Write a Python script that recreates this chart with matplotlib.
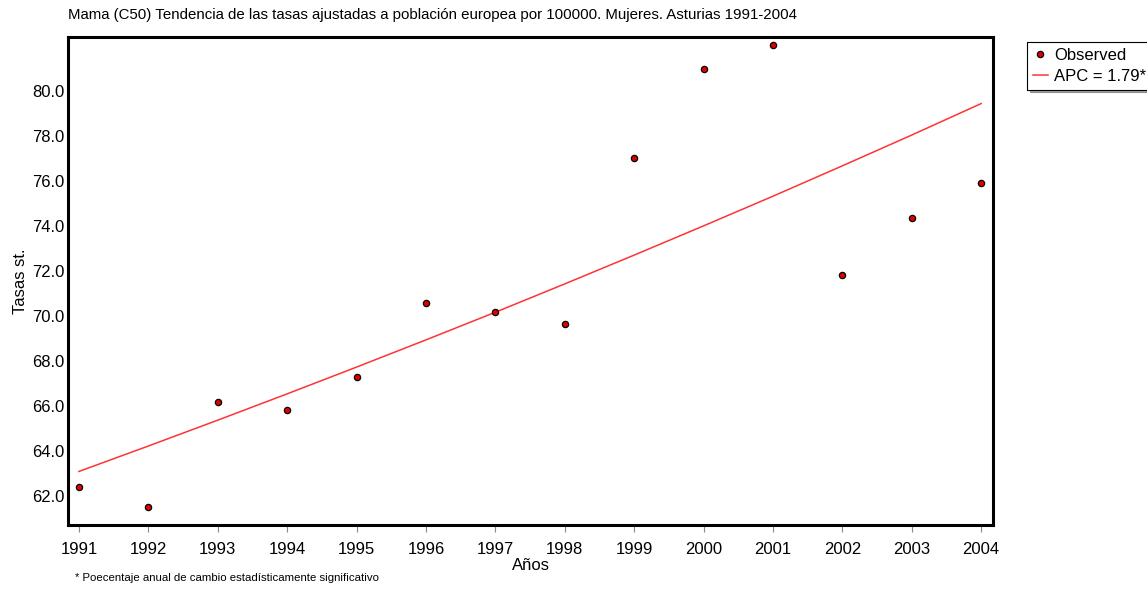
import matplotlib.pyplot as plt
import numpy as np

# Data
years = [1991, 1992, 1993, 1994, 1995, 1996, 1997, 1998, 1999, 2000, 2001, 2002, 2003, 2004]
observed = [62.37, 61.52, 66.17, 65.83, 67.29, 70.55, 70.19, 69.63, 77.04, 80.98, 82.05, 71.82, 74.36, 75.91]
fitted = [63.08, 64.21, 65.36, 66.53, 67.72, 68.93, 70.16, 71.42, 72.70, 74.00, 75.32, 76.67, 78.04, 79.44]
ytick_vals = [62.0, 64.0, 66.0, 68.0, 70.0, 72.0, 74.0, 76.0, 78.0, 80.0]

plt.rcParams['font.family'] = ['Liberation Sans', 'DejaVu Sans']

fig = plt.figure(figsize=(11.47, 5.89), dpi=100)
ax = fig.add_axes([0.0597, 0.1087, 0.8060, 0.8285])

ax.plot(years, fitted, color='#ff3333', linewidth=1.1, label='APC = 1.79*', zorder=2)
ax.plot(years, observed, linestyle='none', marker='o', markersize=4.5,
        markerfacecolor='#e00000', markeredgecolor='black', markeredgewidth=0.9,
        label='Observed', zorder=3)

ax.set_xlim(1990.85, 2004.17)
ax.set_ylim(60.7, 82.4)
ax.set_xticks(years)
ax.set_xticklabels([str(y) for y in years], fontsize=12)
ax.set_yticks(ytick_vals)
ax.set_yticklabels([f"{v:.1f}" for v in ytick_vals], fontsize=12)
ax.tick_params(axis='x', direction='out', length=5, width=0.8, color='#888888', pad=7)
ax.tick_params(axis='y', length=0, pad=3)

for s in ax.spines.values():
    s.set_linewidth(2.2)
    s.set_color('black')

ax.set_ylabel('Tasas st.', fontsize=12, labelpad=3)
ax.set_xlabel('Años', fontsize=12, labelpad=1)

fig.text(68 / 1147, 1 - 15 / 589, 'Mama (C50) Tendencia de las tasas ajustadas a población europea por 100000. Mujeres. Asturias 1991-2004',
         fontsize=10.8, va='center', ha='left')
fig.text(75 / 1147, 1 - 578 / 589, '* Poecentaje anual de cambio estadísticamente significativo',
         fontsize=8.2, va='center', ha='left')

handles, labels = ax.get_legend_handles_labels()
leg = fig.legend(handles[::-1], labels[::-1], loc='upper left',
                 bbox_to_anchor=(1027 / 1147, 1 - 42 / 589), fontsize=12,
                 frameon=True, fancybox=False, shadow=True, borderpad=0.35,
                 handlelength=0.9, handletextpad=0.4, labelspacing=0.35,
                 borderaxespad=0)
leg.get_frame().set_edgecolor('black')
leg.get_frame().set_linewidth(0.8)

fig.savefig('out.png', dpi=100, facecolor='white')
